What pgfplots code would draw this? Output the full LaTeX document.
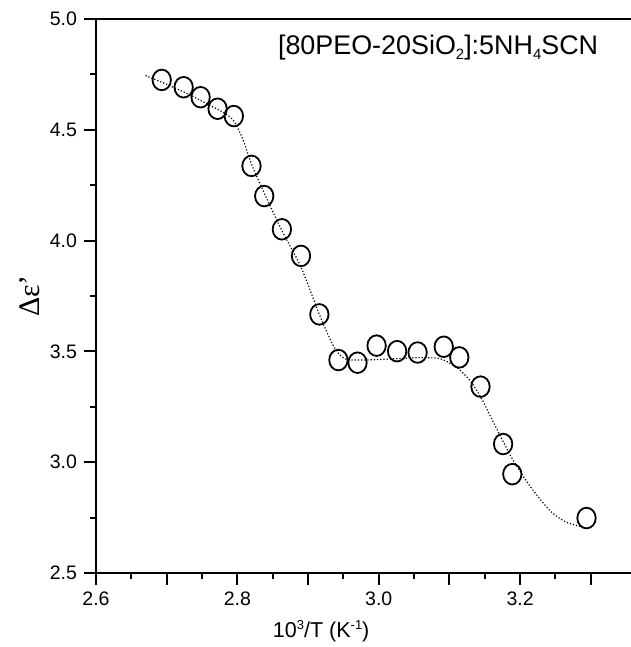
\documentclass[border=0pt]{standalone}
\usepackage{fontspec}
\setmainfont{Liberation Sans}
\newfontfamily\seriffont{Liberation Serif}
\usepackage{pgfplots}
\pgfplotsset{compat=1.18}
\newcommand{\lowsub}[1]{\raisebox{-0.3ex}{\fontsize{7.5}{8}\selectfont #1}}
\newcommand{\highsup}[1]{\raisebox{0.75ex}{\fontsize{6.5}{7}\selectfont #1}}

\begin{document}
\begin{tikzpicture}
\begin{axis}[
  at={(0,0)}, anchor=south west,
  scale only axis, width=270bp, height=277bp,
  xmin=2.6, xmax=3.364, ymin=2.5, ymax=5.0,
  axis line style={line width=1bp},
  every tick/.style={black, line width=1bp},
  tick align=outside, xtick pos=bottom, ytick pos=left,
  major tick length=6bp, minor tick length=3bp,
  xtick={2.6,2.7,2.8,2.9,3.0,3.1,3.2,3.3},
  xticklabels={2.6,,2.8,,3.0,,3.2,},
  ytick={2.5,3.0,3.5,4.0,4.5,5.0},
  yticklabels={2.5,3.0,3.5,4.0,4.5,5.0},
  minor x tick num=1, minor y tick num=1,
  /pgf/number format/assume math mode=true,
  tick label style={font=\fontsize{9.8}{12}\selectfont},
  xlabel={10\highsup{3}/T (K\highsup{-1})},
  every axis x label/.style={at={(axis description cs:0.417,0)}, anchor=center, yshift=-29bp, font=\fontsize{10.8}{13}\selectfont},
  ylabel={\seriffont Δε’},
  every axis y label/.style={at={(axis description cs:0,0.5)}, anchor=center, xshift=-33bp, rotate=90, font=\fontsize{15}{17}\selectfont},
  clip=false,
]
\addplot[densely dotted, line width=0.6bp, smooth] coordinates {
(2.670,4.745) (2.700,4.705) (2.730,4.662) (2.760,4.612) (2.780,4.578)
(2.795,4.540) (2.808,4.455) (2.820,4.345) (2.838,4.215) (2.863,4.045)
(2.890,3.880) (2.916,3.667) (2.935,3.530) (2.948,3.475) (2.960,3.462)
(2.990,3.462) (3.030,3.468) (3.060,3.472) (3.085,3.468) (3.100,3.448)
(3.115,3.415) (3.130,3.365) (3.145,3.290) (3.160,3.195) (3.175,3.100)
(3.190,3.010) (3.214,2.892) (3.243,2.779) (3.265,2.730) (3.285,2.710)
};
\addplot[only marks, mark=o, mark size=4.6bp, mark options={yscale=1.12, line width=0.9bp, black}] coordinates {
(2.693,4.725) (2.724,4.692) (2.748,4.647) (2.772,4.595) (2.795,4.562)
(2.820,4.337) (2.838,4.201) (2.863,4.051) (2.890,3.931) (2.916,3.667)
(2.943,3.461) (2.970,3.449) (2.997,3.526) (3.026,3.501) (3.055,3.495)
(3.092,3.521) (3.114,3.473) (3.144,3.341) (3.176,3.082) (3.189,2.946)
(3.294,2.748)
};
\node[font=\fontsize{13.5}{16}\selectfont] at (axis cs:3.084,4.87) {[80PEO-20SiO\lowsub{2}]:5NH\lowsub{4}SCN};
\end{axis}
\pgfresetboundingbox
\path[use as bounding box] (-48bp,-37bp) rectangle (267.5bp,286.5bp);
\end{tikzpicture}
\end{document}
